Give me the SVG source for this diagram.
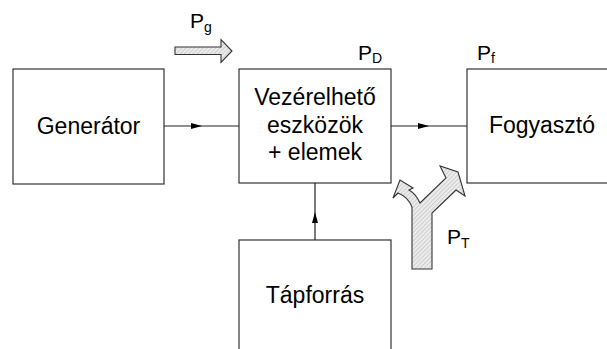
<svg xmlns="http://www.w3.org/2000/svg" width="607" height="349" viewBox="0 0 607 349">
<style>
.box{fill:#fff;stroke:#333;stroke-width:1.2}
.t{font-family:"Liberation Sans",Arial,sans-serif;font-size:23px;fill:#000;text-anchor:middle}
.lbl{font-family:"Liberation Sans",Arial,sans-serif;font-size:21px;fill:#000}
.sub{font-size:14px}
.con{fill:none;stroke:#222;stroke-width:1.2}
.fat{fill:url(#h);stroke:#333;stroke-width:1.1;stroke-linejoin:miter}
</style>
<defs>
<pattern id="h" width="3" height="3" patternUnits="userSpaceOnUse" patternTransform="rotate(45)">
<rect width="3" height="3" fill="#ececec"/>
<line x1="0" y1="0" x2="0" y2="3" stroke="#b0b0b0" stroke-width="1"/>
</pattern>
<marker id="a" markerUnits="userSpaceOnUse" viewBox="0 0 11 6" markerWidth="11" markerHeight="6" refX="11" refY="3" orient="auto">
<path d="M0,0 L11,3 L0,6 Z" fill="#000"/>
</marker>
</defs>
<g id="generator">
<rect class="box" x="13" y="69" width="151" height="115"/>
<text class="t" x="88.5" y="134">Generátor</text>
</g>
<g id="vezerelheto">
<rect class="box" x="239" y="69" width="152" height="114"/>
<text class="t" x="315" y="105">Vezérelhető</text>
<text class="t" x="315" y="133">eszközök</text>
<text class="t" x="315" y="160">+ elemek</text>
</g>
<g id="fogyaszto">
<rect class="box" x="467" y="69" width="160" height="114"/>
<text class="t" x="542" y="133">Fogyasztó</text>
</g>
<g id="tapforras">
<rect class="box" x="239" y="240" width="152" height="130"/>
<text class="t" x="315" y="303">Tápforrás</text>
</g>
<g id="connectors">
<path class="con" d="M164,126 L202,126 L239,126" marker-mid="url(#a)"/>
<path class="con" d="M391,126 L429,126 L467,126" marker-mid="url(#a)"/>
<path class="con" d="M315,240 L315,212 L315,183" marker-mid="url(#a)"/>
</g>
<g id="pg-arrow">
<path class="fat" d="M175,47 L221,47 L221,39.5 L232,51 L221,62.5 L221,54.5 L175,54.5 Z"/>
<text class="lbl" x="190" y="28">P<tspan class="sub" dy="4">g</tspan></text>
</g>
<g id="pt-arrow">
<path class="fat" d="M412,269 L432,269 L432,213 L456,190 L465,196 L458,172 L440,166 L446,178 L420,203 Q416,194 409,190 L413,188 L400,180 L393,198 L398,193 Q408,197 412,207 Z"/>
<text class="lbl" x="447" y="244">P<tspan class="sub" dy="4">T</tspan></text>
</g>
<g id="labels">
<text class="lbl" x="358" y="60">P<tspan class="sub" dy="3">D</tspan></text>
<text class="lbl" x="477" y="60">P<tspan class="sub" dy="3">f</tspan></text>
</g>
</svg>
